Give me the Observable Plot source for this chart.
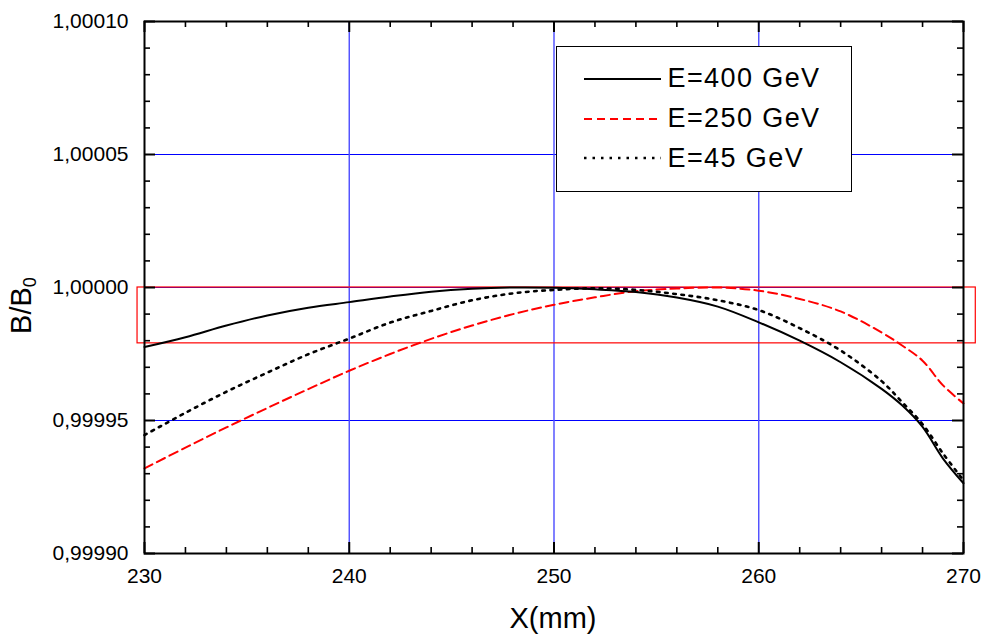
<!DOCTYPE html>
<html>
<head>
<meta charset="utf-8">
<script src="https://cdn.jsdelivr.net/npm/d3@7"></script>
<script src="https://cdn.jsdelivr.net/npm/@observablehq/plot@0.6"></script>
<style>
  html, body { margin: 0; padding: 0; background: white; }
  #wrap { position: relative; width: 985px; height: 638px; font-family: "Liberation Sans", Arial, sans-serif; color: black; }
  .abs { position: absolute; white-space: nowrap; }
  #xtitle { left: 453px; top: 603.5px; width: 200px; text-align: center; font-size: 29px; line-height: 29px; }
  #ytitle { left: -77px; top: 288.5px; width: 200px; text-align: center; font-size: 29px; line-height: 29px; transform: rotate(-90deg); }
  #ytitle span { font-size: 18px; position: relative; top: 5px; }
  #legend { left: 556px; top: 46px; width: 296px; height: 146px; box-sizing: border-box; border: 1.5px solid black; background: white; }
  #legend .lab { position: absolute; left: 110.5px; font-size: 27px; line-height: 27px; letter-spacing: 1.4px; white-space: nowrap; }
  #legend svg { position: absolute; left: 26.5px; }
</style>
</head>
<body>
<div id="wrap"></div>
<script>
// ---- data (deviation of B/B0 from 1, in units of 1e-5) ----
const xPos = [230, 232, 234, 236, 238, 240, 242, 244, 246, 248, 250, 252, 254, 256, 258, 260, 262, 264, 266, 267, 268, 269, 270];
const e400 = [-2.24, -1.87, -1.43, -1.05, -0.76, -0.55, -0.34, -0.16, -0.05, 0.0, -0.01, -0.07, -0.17, -0.38, -0.72, -1.31, -2.0, -2.81, -3.81, -4.43, -5.24, -6.43, -7.36];
const e250 = [-6.8, -6.02, -5.26, -4.53, -3.82, -3.13, -2.5, -1.93, -1.43, -1.0, -0.65, -0.37, -0.14, -0.04, 0.0, -0.12, -0.43, -0.9, -1.69, -2.18, -2.75, -3.68, -4.36];
const e45  = [-5.55, -4.71, -3.92, -3.2, -2.51, -1.92, -1.32, -0.88, -0.48, -0.22, -0.09, -0.03, -0.09, -0.25, -0.48, -0.85, -1.53, -2.37, -3.52, -4.31, -5.14, -6.24, -7.25];
const seriesNames = ["E=400 GeV", "E=250 GeV", "E=45 GeV"];

const xDomain = [230, 270];
const yDomain = [0.9999, 1.0001];
const xMajor = [230, 240, 250, 260, 270];
const xMinor = [232, 234, 236, 238, 242, 244, 246, 248, 252, 254, 256, 258, 262, 264, 266, 268];
const yMajor = [0.9999, 0.99995, 1.0, 1.00005, 1.0001];
const yMinor = [0.99991, 0.99992, 0.99993, 0.99994, 0.99996, 0.99997, 0.99998, 0.99999,
                1.00001, 1.00002, 1.00003, 1.00004, 1.00006, 1.00007, 1.00008, 1.00009];
const xGrid = [240, 250, 260];
const yGrid = [0.99995, 1.0, 1.00005];
// highlighted band: [x1, x2, y1, y2]
const band = [229.66, 270.6, 0.999979, 1.0];

// ---- build table ----
const toRows = (vals, name) => xPos.map((x, i) => ({x, y: 1 + vals[i] * 1e-5, series: name}));
const r400 = toRows(e400, seriesNames[0]);
const r250 = toRows(e250, seriesNames[1]);
const r45 = toRows(e45, seriesNames[2]);

const W = 985, H = 638;
const mL = 144, mR = 22, mT = 21, mB = 85;
const plotW = W - mL - mR, plotH = H - mT - mB;
const majorLen = 11, minorLen = 6;
// tick lengths converted to data units so rules run inward from each frame edge
const yPer = (yDomain[1] - yDomain[0]) / plotH;
const xPer = (xDomain[1] - xDomain[0]) / plotW;

function xTicks(vals, len, sw) {
  const d = len * yPer;
  return [
    Plot.ruleX(vals, {x: v => v, y1: yDomain[0], y2: yDomain[0] + d, stroke: "black", strokeWidth: sw}),
    Plot.ruleX(vals, {x: v => v, y1: yDomain[1] - d, y2: yDomain[1], stroke: "black", strokeWidth: sw})
  ];
}
function yTicks(vals, len, sw) {
  const d = len * xPer;
  return [
    Plot.ruleY(vals, {y: v => v, x1: xDomain[0], x2: xDomain[0] + d, stroke: "black", strokeWidth: sw}),
    Plot.ruleY(vals, {y: v => v, x1: xDomain[1] - d, x2: xDomain[1], stroke: "black", strokeWidth: sw})
  ];
}

const chart = Plot.plot({
  width: W, height: H,
  marginLeft: mL, marginRight: mR, marginTop: mT, marginBottom: mB,
  style: {fontFamily: '"Liberation Sans", Arial, sans-serif', background: "white", color: "black"},
  x: {domain: xDomain, label: null},
  y: {domain: yDomain, label: null},
  marks: [
    Plot.gridY(yGrid, {stroke: "#0000ff", strokeOpacity: 1, strokeWidth: 1}),
    Plot.gridX(xGrid, {stroke: "#4b4bff", strokeOpacity: 1, strokeWidth: 1.4}),
    Plot.rect([band], {x1: d => d[0], x2: d => d[1], y1: d => d[2], y2: d => d[3], fill: "none", stroke: "#ff0000", strokeWidth: 1.2}),
    Plot.line(r250, {x: "x", y: "y", stroke: "#ff0000", strokeWidth: 2, strokeDasharray: "9,5", curve: "catmull-rom"}),
    Plot.line(r45, {x: "x", y: "y", stroke: "black", strokeWidth: 2.6, strokeDasharray: "2.6,5.6", curve: "catmull-rom"}),
    Plot.line(r400, {x: "x", y: "y", stroke: "black", strokeWidth: 2, curve: "catmull-rom"}),
    Plot.frame({stroke: "black", strokeWidth: 2}),
    // tick labels
    Plot.axisX(xMajor, {anchor: "bottom", tickSize: 0, tickPadding: 15, fontSize: 21, label: null, tickFormat: d => String(d)}),
    Plot.axisY(yMajor, {anchor: "left", tickSize: 0, tickPadding: 16, fontSize: 21, label: null,
      tickFormat: d => d.toFixed(5).replace(".", ",")}),
    // inward ticks on all four sides
    ...xTicks(xMajor, majorLen, 2),
    ...xTicks(xMinor, minorLen, 1.6),
    ...yTicks(yMajor, majorLen, 2),
    ...yTicks(yMinor, minorLen, 1.6)
  ]
});

const wrap = document.getElementById("wrap");
wrap.appendChild(chart);

// ---- titles (HTML) ----
const xt = document.createElement("div");
xt.id = "xtitle"; xt.className = "abs"; xt.textContent = "X(mm)";
wrap.appendChild(xt);

const yt = document.createElement("div");
yt.id = "ytitle"; yt.className = "abs";
yt.appendChild(document.createTextNode("B/B"));
const sub = document.createElement("span"); sub.textContent = "0";
yt.appendChild(sub);
wrap.appendChild(yt);

// ---- legend (HTML box with small line swatches) ----
const legendStyles = [
  {stroke: "black", width: 2, dash: null},
  {stroke: "#ff0000", width: 2, dash: "8,5"},
  {stroke: "black", width: 2.5, dash: "2.5,6"}
];
const swatchTops = [26.5, 66.5, 105.5];
const labelTops = [17.7, 57.7, 97.7];
const lg = document.createElement("div");
lg.id = "legend"; lg.className = "abs";
const ns = "http://www.w3.org/2000/svg";
seriesNames.forEach((name, i) => {
  const s = document.createElementNS(ns, "svg");
  s.setAttribute("width", 77); s.setAttribute("height", 10);
  s.style.top = swatchTops[i] + "px";
  const ln = document.createElementNS(ns, "line");
  ln.setAttribute("x1", 0); ln.setAttribute("x2", 77);
  ln.setAttribute("y1", 5); ln.setAttribute("y2", 5);
  ln.setAttribute("stroke", legendStyles[i].stroke);
  ln.setAttribute("stroke-width", legendStyles[i].width);
  if (legendStyles[i].dash) ln.setAttribute("stroke-dasharray", legendStyles[i].dash);
  s.appendChild(ln);
  lg.appendChild(s);
  const t = document.createElement("div");
  t.className = "lab"; t.style.top = labelTops[i] + "px"; t.textContent = name;
  lg.appendChild(t);
});
wrap.appendChild(lg);

// force a layout pass over the tick rules
chart.querySelectorAll('g[aria-label="rule"] line').forEach(l => { l.getBoundingClientRect(); getComputedStyle(l).stroke; });
chart.getBoundingClientRect();
</script>
</body>
</html>
